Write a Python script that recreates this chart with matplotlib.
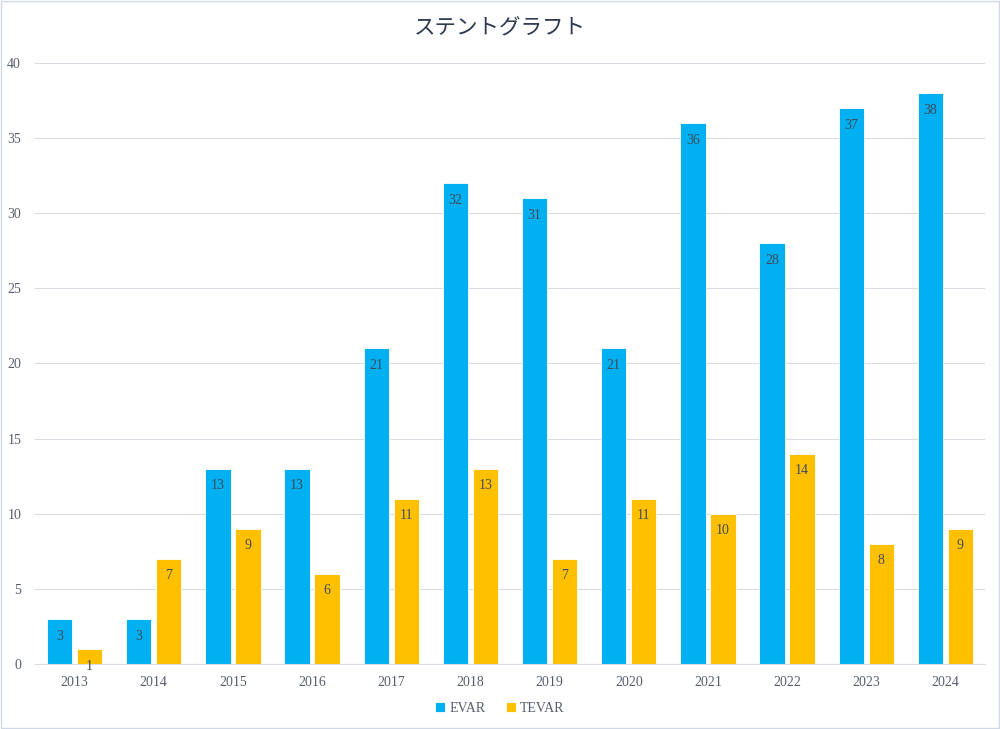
import numpy as np
import matplotlib.pyplot as plt
from matplotlib.patches import Rectangle

years = ['2013', '2014', '2015', '2016', '2017', '2018', '2019', '2020', '2021', '2022', '2023', '2024']
evar = [3, 3, 13, 13, 21, 32, 31, 21, 36, 28, 37, 38]
tevar = [1, 7, 9, 6, 11, 13, 7, 11, 10, 14, 8, 9]

serif = ['Liberation Serif', 'DejaVu Serif']
txt_color = '#575e6b'

fig = plt.figure(figsize=(10, 7.29), dpi=100)
ax = fig.add_axes([0.035, 0.0892, 0.95, 0.8244])

x = np.arange(len(years))
w = 0.32
b1 = ax.bar(x - 0.19, evar, w, color='#00B0F0', edgecolor='white', linewidth=0.6, label='EVAR', zorder=2)
b2 = ax.bar(x + 0.19, tevar, w, color='#FFC000', edgecolor='white', linewidth=0.6, label='TEVAR', zorder=2)

for bars, vals in [(b1, evar), (b2, tevar)]:
    for r, v in zip(bars, vals):
        ax.annotate(str(v), (r.get_x() + r.get_width() / 2, v), xytext=(0, -17),
                    textcoords='offset points', ha='center', va='bottom',
                    fontsize=10, color='#404a5a', family=serif, zorder=3)

ax.set_xlim(-0.5, len(years) - 0.5)
ax.set_ylim(0, 40)
ax.set_yticks(range(0, 41, 5))
ax.set_xticks(x)
ax.set_xticklabels(years)
ax.grid(axis='y', color='#d9dce3', linewidth=0.8, zorder=0)
for s in ['top', 'right', 'left']:
    ax.spines[s].set_visible(False)
ax.spines['bottom'].set_color('#d9dce3')
ax.tick_params(length=0, labelsize=10, labelcolor=txt_color)
ax.tick_params(axis='y', pad=10)
ax.tick_params(axis='x', pad=9)
for lab in ax.get_xticklabels() + ax.get_yticklabels():
    lab.set_family(serif)

fig.text(0.5, 0.962, 'ステントグラフト', ha='center', va='center', fontsize=15.5,
         color='#2e3a52', family=['Noto Sans CJK JP', 'DejaVu Sans'])

leg = fig.legend(handles=[b1, b2], loc='center', bbox_to_anchor=(0.5, 0.028), ncol=2,
                 frameon=False, handlelength=0.7, handleheight=0.7, handletextpad=0.3,
                 columnspacing=1.5, prop={'family': serif, 'size': 10})
for t in leg.get_texts():
    t.set_color(txt_color)

fig.patches.append(Rectangle((0.001, 0.001), 0.998, 0.998, transform=fig.transFigure,
                             fill=False, edgecolor='#d0d7e5', linewidth=1))

fig.savefig('out.png', dpi=100)
